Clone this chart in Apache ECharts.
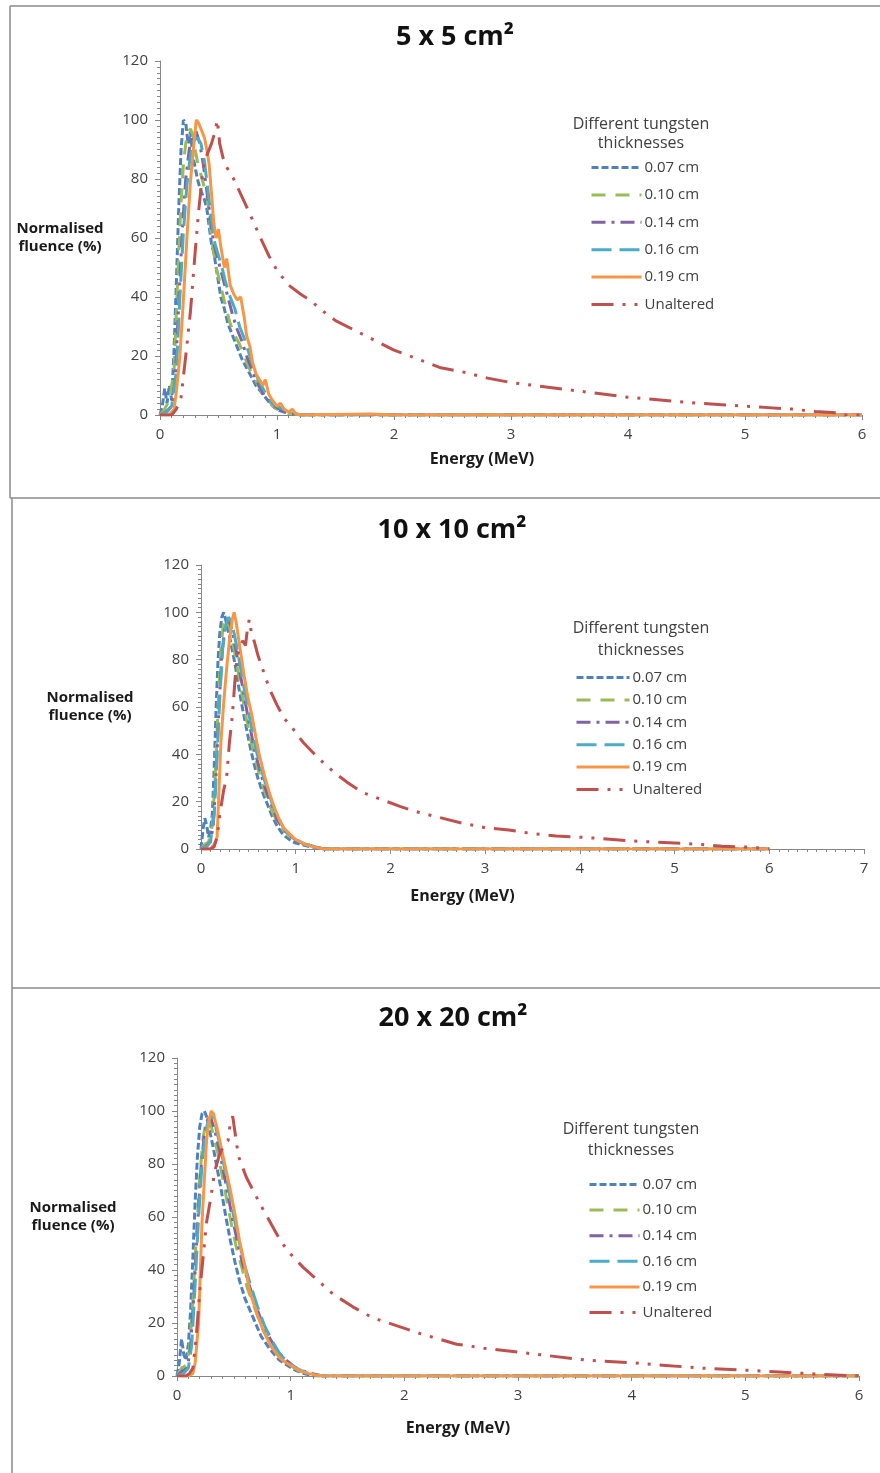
<!DOCTYPE html>
<html><head><meta charset="utf-8">
<script src="https://cdn.jsdelivr.net/npm/echarts@6/dist/echarts.min.js"></script>
<style>html,body{margin:0;padding:0;background:#fff}#c{width:880px;height:1473px}</style>
</head><body><div id="c"></div>
<script>
// ---------- DATA ----------
const seriesNames = ['0.07 cm', '0.10 cm', '0.14 cm', '0.16 cm', '0.19 cm', 'Unaltered'];
const panelTitles = ['5 x 5 cm²', '10 x 10 cm²', '20 x 20 cm²'];
const legendTitle = ['Different tungsten', 'thicknesses'];
const xAxisName = 'Energy (MeV)';
const yAxisName = 'Normalised\nfluence (%)';
const xMaxTicks = [6, 7, 6];
const yMaxTick = 120;

// Panel 1: 5 x 5 cm2  [energy MeV, normalised fluence %]
const p1_007 = [[0,0],[0.02,3],[0.04,9],[0.06,4],[0.08,10],[0.10,5],[0.12,22],[0.14,45],[0.16,70],[0.18,90],[0.20,100],[0.22,99],[0.24,92],[0.26,96],[0.28,88],[0.30,84],[0.32,80],[0.34,77],[0.36,75],[0.38,73],[0.40,70],[0.42,64],[0.44,58],[0.46,55],[0.48,50],[0.50,45],[0.52,40],[0.55,36],[0.58,31],[0.62,27],[0.66,23],[0.70,19],[0.74,16],[0.78,13],[0.82,10],[0.86,8],[0.90,6],[0.94,4],[0.98,2.5],[1.02,1.5],[1.06,1],[1.10,0.5],[1.2,0],[6,0]];
const p1_010 = [[0,0],[0.04,2],[0.08,5],[0.12,15],[0.14,35],[0.16,55],[0.18,72],[0.20,85],[0.22,92],[0.24,96],[0.26,97],[0.28,95],[0.30,90],[0.32,86],[0.34,83],[0.36,80],[0.38,77],[0.40,75],[0.42,68],[0.44,60],[0.46,55],[0.48,50],[0.50,47],[0.53,42],[0.56,37],[0.60,31],[0.64,27],[0.68,24],[0.72,20],[0.76,16],[0.80,13],[0.84,10],[0.88,7],[0.92,5],[0.96,3.5],[1.00,2],[1.05,1],[1.1,0.5],[1.2,0],[6,0]];
const p1_014 = [[0,0],[0.05,1],[0.10,3],[0.13,12],[0.16,38],[0.19,62],[0.22,80],[0.25,90],[0.28,95],[0.31,96],[0.34,92],[0.37,85],[0.40,76],[0.43,67],[0.46,58],[0.50,52],[0.54,46],[0.58,40],[0.62,34],[0.66,29],[0.70,25],[0.74,20],[0.78,16],[0.82,12],[0.86,9],[0.90,6],[0.95,4],[1.00,2.5],[1.05,1.5],[1.1,0.5],[1.2,0],[6,0]];
const p1_016 = [[0,0],[0.06,1],[0.10,3],[0.14,15],[0.17,40],[0.20,62],[0.23,78],[0.26,88],[0.29,93],[0.32,94],[0.35,92],[0.38,86],[0.41,76],[0.44,66],[0.47,58],[0.50,54],[0.53,50],[0.56,45],[0.60,40],[0.64,36],[0.68,30],[0.72,26],[0.76,21],[0.80,16],[0.84,12],[0.88,9],[0.92,6],[0.96,4],[1.00,3],[1.05,2],[1.1,1],[1.2,0],[6,0]];
const p1_019 = [[0,0],[0.08,0],[0.12,2],[0.14,8],[0.17,20],[0.20,39],[0.23,60],[0.26,79],[0.29,92],[0.31,100],[0.33,99],[0.36,96],[0.38,94],[0.40,90],[0.42,85],[0.44,75],[0.46,65],[0.48,60],[0.50,63],[0.52,57],[0.55,50],[0.57,53],[0.60,44],[0.63,41],[0.66,39],[0.69,40],[0.72,33],[0.74,27],[0.77,23],[0.79,18],[0.82,14],[0.85,12],[0.88,10],[0.90,12],[0.93,7],[0.96,5],[1.00,3],[1.03,4],[1.06,2],[1.10,1],[1.13,2],[1.16,0.5],[1.2,0],[1.5,0.2],[1.8,0.3],[2.0,0],[6,0]];
const p1_unalt = [[0,0],[0.10,0],[0.14,2],[0.18,6],[0.22,20],[0.26,35],[0.30,55],[0.33,69],[0.37,84],[0.40,88],[0.44,92],[0.47,96],[0.49,100],[0.51,92],[0.54,87],[0.57,84],[0.63,80],[0.70,74],[0.77,68],[0.86,60],[0.93,54],[1.0,49],[1.1,44],[1.2,41],[1.28,39],[1.4,35],[1.5,32],[1.65,29],[1.8,26],[2.0,22],[2.2,19],[2.4,16],[2.6,14.5],[2.8,12.5],[3.0,11],[3.2,10],[3.5,8.5],[3.8,7],[4.0,6],[4.3,5],[4.6,4],[4.8,3.5],[5.0,3],[5.2,2.5],[5.4,2],[5.6,1.2],[5.8,0.7],[5.85,0],[6,0]];

// Panel 2: 10 x 10 cm2
const p2_007 = [[0,0],[0.02,8],[0.04,13],[0.06,10],[0.08,5],[0.10,8],[0.12,15],[0.14,35],[0.16,60],[0.18,80],[0.20,92],[0.22,98],[0.24,100],[0.26,97],[0.28,93],[0.30,90],[0.33,84],[0.36,78],[0.40,68],[0.44,59],[0.48,51],[0.52,43],[0.56,36],[0.60,30],[0.65,24],[0.70,19],[0.75,14],[0.80,10],[0.85,7],[0.90,5],[0.95,3.5],[1.0,2.5],[1.05,2],[1.15,1],[1.3,0],[6,0]];
const p2_010 = [[0,0],[0.04,2],[0.08,3],[0.12,10],[0.15,30],[0.18,60],[0.21,85],[0.24,96],[0.27,98],[0.30,94],[0.33,88],[0.36,82],[0.40,73],[0.44,64],[0.48,55],[0.52,47],[0.56,40],[0.60,34],[0.65,27],[0.70,21],[0.75,16],[0.80,12],[0.85,9],[0.90,7],[0.95,5],[1.0,3.5],[1.1,2],[1.2,1],[1.3,0],[6,0]];
const p2_014 = [[0,0],[0.05,1],[0.10,3],[0.13,10],[0.16,32],[0.19,60],[0.22,82],[0.25,93],[0.28,97],[0.31,95],[0.34,90],[0.37,84],[0.41,75],[0.45,66],[0.49,57],[0.53,49],[0.57,41],[0.61,35],[0.66,28],[0.71,22],[0.76,17],[0.81,12],[0.86,9],[0.91,6.5],[0.96,5],[1.01,3.5],[1.1,2],[1.2,1],[1.3,0],[6,0]];
const p2_016 = [[0,0],[0.06,1],[0.10,3],[0.14,15],[0.17,40],[0.20,65],[0.23,85],[0.26,94],[0.29,98],[0.32,96],[0.35,91],[0.38,85],[0.42,76],[0.46,67],[0.50,58],[0.54,50],[0.58,42],[0.62,36],[0.67,29],[0.72,23],[0.77,17],[0.82,13],[0.87,9],[0.92,6.5],[0.97,5],[1.02,3.5],[1.1,2],[1.2,1],[1.3,0],[6,0]];
const p2_019 = [[0,0],[0.10,0],[0.14,2],[0.17,5],[0.19,25],[0.21,45],[0.24,62],[0.27,76],[0.30,88],[0.33,97],[0.35,100],[0.37,96],[0.40,88],[0.43,80],[0.46,72],[0.50,63],[0.54,56],[0.58,47],[0.62,39],[0.67,31],[0.72,24],[0.77,18],[0.82,13],[0.87,9],[0.92,7],[0.97,5],[1.0,4],[1.05,3],[1.1,2],[1.18,1],[1.3,0],[6,0]];
const p2_unalt = [[0,0],[0.10,0],[0.14,1],[0.17,5],[0.20,15],[0.24,25],[0.27,30],[0.30,45],[0.33,56],[0.36,72],[0.38,81],[0.41,85],[0.44,88],[0.47,86],[0.49,93],[0.51,97],[0.53,92],[0.56,88],[0.60,82],[0.66,75],[0.72,68],[0.80,61],[0.88,55],[0.95,52],[1.02,48],[1.08,45],[1.2,40],[1.33,35],[1.45,31],[1.55,28],[1.7,24],[1.9,21],[2.1,18],[2.25,16],[2.5,13.5],[2.75,11],[3.0,9],[3.25,8],[3.5,6.5],[3.75,5.5],[4.0,5],[4.2,4.5],[4.5,3.5],[4.75,3],[5.0,2.5],[5.25,2],[5.5,1.2],[5.75,0.8],[5.9,0.4],[6.0,0]];

// Panel 3: 20 x 20 cm2
const p3_007 = [[0,0],[0.02,5],[0.04,14],[0.06,8],[0.08,6],[0.10,12],[0.12,25],[0.14,45],[0.16,66],[0.18,83],[0.20,94],[0.22,99],[0.24,100],[0.26,98],[0.28,94],[0.30,90],[0.32,86],[0.35,79],[0.39,70],[0.43,60],[0.47,51],[0.51,43],[0.55,36],[0.60,29],[0.67,22],[0.74,15],[0.82,10],[0.90,6],[0.99,3.5],[1.05,2],[1.11,1],[1.2,0],[6,0]];
const p3_010 = [[0,0],[0.04,3],[0.08,4],[0.11,10],[0.14,28],[0.17,52],[0.20,75],[0.23,90],[0.26,97],[0.29,96],[0.32,91],[0.36,84],[0.40,75],[0.44,66],[0.48,57],[0.52,49],[0.57,41],[0.62,33],[0.68,26],[0.74,19],[0.80,14],[0.87,9],[0.94,6],[1.0,4],[1.07,2],[1.15,1],[1.25,0],[6,0]];
const p3_014 = [[0,0],[0.05,2],[0.09,3],[0.12,11],[0.15,32],[0.18,56],[0.21,78],[0.24,91],[0.27,97],[0.30,97],[0.33,93],[0.37,86],[0.41,77],[0.45,68],[0.49,59],[0.53,51],[0.58,42],[0.63,35],[0.69,27],[0.75,20],[0.82,14],[0.89,9],[0.96,6],[1.03,3.5],[1.1,2],[1.18,1],[1.28,0],[6,0]];
const p3_016 = [[0,0],[0.06,1],[0.10,3],[0.13,12],[0.16,35],[0.19,60],[0.22,80],[0.25,92],[0.28,97],[0.31,98],[0.34,94],[0.38,87],[0.42,78],[0.46,69],[0.50,60],[0.55,50],[0.60,41],[0.65,34],[0.71,26],[0.77,19],[0.84,13],[0.91,8],[0.98,5],[1.05,3],[1.12,1.5],[1.2,0.5],[1.3,0],[6,0]];
const p3_019 = [[0,0],[0.10,0],[0.14,1],[0.16,5],[0.19,20],[0.22,58],[0.26,89],[0.28,96],[0.30,100],[0.32,99],[0.35,94],[0.39,86],[0.43,78],[0.47,70],[0.51,61],[0.55,51],[0.60,41],[0.64,32],[0.70,24],[0.76,17],[0.83,11],[0.90,7],[0.96,5],[1.0,4],[1.04,3],[1.08,2],[1.15,1],[1.23,0.3],[1.3,0],[6,0]];
const p3_unalt = [[0,0],[0.08,0],[0.11,1],[0.14,3],[0.17,15],[0.20,32],[0.23,45],[0.26,58],[0.30,68],[0.33,77],[0.37,83],[0.41,87],[0.45,89],[0.47,96],[0.49,98],[0.51,92],[0.54,83],[0.61,75],[0.67,70],[0.73,65],[0.82,58],[0.91,51],[1.0,46],[1.11,41],[1.24,36],[1.37,31],[1.55,26],[1.72,22],[1.93,19],[2.14,16],[2.3,14],[2.46,12],[2.7,10.5],[3.0,9],[3.3,7.5],[3.6,6],[4.0,5],[4.3,4],[4.6,3],[5.0,2.2],[5.3,1.5],[5.6,0.8],[5.9,0.2],[6.0,0]];

const panelData = [
  [p1_007, p1_010, p1_014, p1_016, p1_019, p1_unalt],
  [p2_007, p2_010, p2_014, p2_016, p2_019, p2_unalt],
  [p3_007, p3_010, p3_014, p3_016, p3_019, p3_unalt]
];

// ---------- STYLE / LAYOUT ----------
const FONT = '"Open Sans", "Liberation Sans", sans-serif';
const lineStyles = [
  {color: '#4F81BD', type: [7, 3]},
  {color: '#9BBB59', type: [14, 10]},
  {color: '#8064A2', type: [14, 6, 3, 6]},
  {color: '#4BACC6', type: [20, 8]},
  {color: '#F79646', type: 'solid'},
  {color: '#C0504D', type: [22, 9, 3, 9, 3, 9]}
];
const grids = [
  {left: 160, top: 61, width: 702, height: 354},
  {left: 201, top: 565, width: 663, height: 284},
  {left: 177, top: 1058, width: 682, height: 318}
];
const layout = [
  {title: [455, 37], legTitle: [641, 124, 143], legend: {left: 590, top: 160, itemWidth: 50, itemGap: 12.4},
   yNameGap: 100, xNameGap: 36, xNameShift: 58},
  {title: [452, 530], legTitle: [641, 628, 650], legend: {left: 575, top: 670, itemWidth: 53, itemGap: 7.4},
   yNameGap: 111, xNameGap: 39, xNameShift: 140},
  {title: [453, 1018], legTitle: [631, 1129, 1150], legend: {left: 588, top: 1177, itemWidth: 50, itemGap: 10.6},
   yNameGap: 104, xNameGap: 44, xNameShift: 120}
];
const axisColor = '#868686';
const textColor = '#404040';

const option = {
  animation: false,
  backgroundColor: '#ffffff',
  textStyle: {fontFamily: FONT},
  grid: grids.map(g => Object.assign({containLabel: false}, g)),
  xAxis: grids.map((g, i) => ({
    type: 'value', gridIndex: i, min: 0, max: xMaxTicks[i], interval: 1,
    axisLine: {show: true, onZero: false, lineStyle: {color: axisColor, width: 1}},
    axisTick: {show: true, length: 5, lineStyle: {color: axisColor}},
    minorTick: {show: true, splitNumber: 10, length: 3, lineStyle: {color: axisColor}},
    splitLine: {show: false},
    axisLabel: {fontSize: 15, color: textColor, margin: 12, fontFamily: FONT},
    name: xAxisName, nameLocation: 'middle', nameGap: layout[i].xNameGap,
    nameTextStyle: {fontWeight: 'bold', fontSize: 16, color: '#1a1a1a', fontFamily: FONT,
                    padding: [0, layout[i].xNameShift, 0, 0]}
  })),
  yAxis: grids.map((g, i) => ({
    type: 'value', gridIndex: i, min: 0, max: yMaxTick, interval: 20,
    axisLine: {show: true, lineStyle: {color: axisColor, width: 1}},
    axisTick: {show: true, length: 5, lineStyle: {color: axisColor}},
    minorTick: {show: true, splitNumber: 10, length: 3, lineStyle: {color: axisColor}},
    splitLine: {show: false},
    axisLabel: {fontSize: 15, color: textColor, margin: 12, fontFamily: FONT},
    name: yAxisName, nameLocation: 'middle', nameRotate: 0, nameGap: layout[i].yNameGap,
    nameTextStyle: {fontWeight: 'bold', fontSize: 15, color: '#1a1a1a', fontFamily: FONT,
                    align: 'center', verticalAlign: 'middle', lineHeight: 18}
  })),
  legend: layout.map((l, i) => ({
    orient: 'vertical', left: l.legend.left, top: l.legend.top, padding: 0,
    itemWidth: l.legend.itemWidth, itemHeight: 15, itemGap: l.legend.itemGap,
    data: seriesNames, selectedMode: false,
    itemStyle: {opacity: 0},
    lineStyle: {width: 3},
    textStyle: {fontSize: 15, color: textColor, fontFamily: FONT, padding: [0, 0, 0, -2]}
  })),
  series: [],
  graphic: []
};

panelData.forEach((arr, p) => {
  arr.forEach((d, s) => {
    option.series.push({
      type: 'line', name: seriesNames[s], xAxisIndex: p, yAxisIndex: p,
      data: d, symbol: 'none', showSymbol: false, clip: true,
      lineStyle: {color: lineStyles[s].color, width: 3, type: lineStyles[s].type},
      itemStyle: {color: lineStyles[s].color},
      z: 2 + s
    });
  });
});

// panel borders
const borderColor = '#8a8a8a';
const borders = [
  [10, 6, 880, 6], [10, 6, 10, 498],
  [10, 498, 880, 498], [12, 498, 12, 988],
  [12, 988, 880, 988], [12, 988, 12, 1473]
];
borders.forEach(b => option.graphic.push({
  type: 'line', silent: true, shape: {x1: b[0], y1: b[1], x2: b[2], y2: b[3]},
  style: {stroke: borderColor, lineWidth: 1.5}
}));
layout.forEach((l, i) => {
  option.graphic.push({
    type: 'text', x: l.title[0], y: l.title[1],
    style: {text: panelTitles[i], textAlign: 'center', textVerticalAlign: 'middle',
            font: 'bold 27px ' + FONT, fill: '#111'}
  });
  option.graphic.push({
    type: 'text', x: l.legTitle[0], y: l.legTitle[1],
    style: {text: legendTitle[0], textAlign: 'center', textVerticalAlign: 'middle',
            font: '16px ' + FONT, fill: textColor}
  });
  option.graphic.push({
    type: 'text', x: l.legTitle[0], y: l.legTitle[2],
    style: {text: legendTitle[1], textAlign: 'center', textVerticalAlign: 'middle',
            font: '16px ' + FONT, fill: textColor}
  });
});

const chart = echarts.init(document.getElementById('c'), null, {renderer: 'canvas'});
chart.setOption(option);
</script>
</body></html>
